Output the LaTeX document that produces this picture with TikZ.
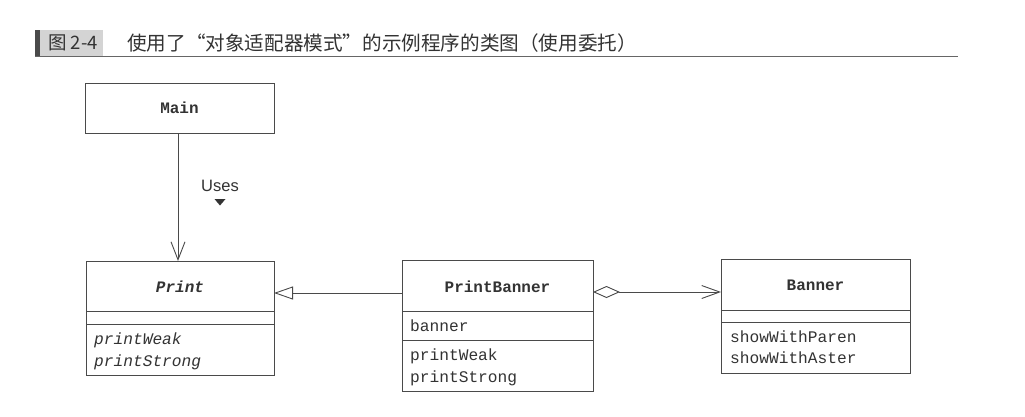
\documentclass[tikz,border=0pt]{standalone}
\usepackage{fontspec}
\setmainfont{Liberation Serif}
\newfontfamily\monofont{Liberation Mono}
\newfontfamily\labelfont{Liberation Sans}
\newfontfamily\cjkfont{Noto Sans CJK SC}
\usetikzlibrary{arrows.meta}

\definecolor{ink}{HTML}{333333}
\definecolor{frame}{HTML}{4A4A4A}
\definecolor{figtag}{HTML}{D4D4D4}

\newcommand{\memberfont}{\monofont\fontsize{16.2}{19}\selectfont}

\tikzset{
  classbox/.style={draw=frame, line width=0.9pt, fill=white, inner sep=0pt, outer sep=0pt, anchor=north west},
  divider/.style={draw=frame, line width=0.9pt},
  clsname/.style={font=\monofont\bfseries\fontsize{16}{19}\selectfont, text=ink, inner sep=0pt},
  member/.style={font=\memberfont, text=ink, inner sep=0pt, anchor=base west},
  link/.style={draw=frame, line width=0.9pt},
  captiontext/.style={text=ink, anchor=west, inner sep=0pt},
}

\begin{document}
\begin{tikzpicture}[x=1pt, y=-1pt]
\useasboundingbox[fill=white] (0,0) rectangle (1025,416);

% figure caption
\fill[frame] (35,30) rectangle (40,56);
\fill[figtag] (40,30) rectangle (103,56);
\draw[gray!80!black, line width=1.4pt] (35,56.5) -- (958,56.5);
\node[captiontext, font=\cjkfont\fontsize{18.5}{21}\selectfont] (tag) at (48,43) {图 2-4};
\node[captiontext, font=\cjkfont\fontsize{19.6}{22}\selectfont] (caption) at (127,43) {使用了“对象适配器模式”的示例程序的类图（使用委托）};

% Main
\node[classbox, minimum width=189pt, minimum height=50pt] (main) at (85,83) {};
\node[clsname] (mainname) at (179.5,108) {Main};

% Print
\node[classbox, minimum width=188pt, minimum height=114pt] (print) at (86,261) {};
\draw[divider] (print.west |- 0,311) -- (print.east |- 0,311);
\draw[divider] (print.west |- 0,324) -- (print.east |- 0,324);
\node[clsname, font=\monofont\bfseries\itshape\fontsize{16}{19}\selectfont] (printname) at (180,287) {Print};
\node[member, font=\memberfont\itshape] (pweak) at (94,344) {printWeak};
\node[member, font=\memberfont\itshape] (pstrong) at (94,366) {printStrong};

% PrintBanner
\node[classbox, minimum width=191pt, minimum height=131pt] (pb) at (402,260) {};
\draw[divider] (pb.west |- 0,311) -- (pb.east |- 0,311);
\draw[divider] (pb.west |- 0,340) -- (pb.east |- 0,340);
\node[clsname] (pbname) at (497.5,287) {PrintBanner};
\node[member] (pbfield) at (410,331) {banner};
\node[member] (pbweak) at (410,360) {printWeak};
\node[member] (pbstrong) at (410,382) {printStrong};

% Banner
\node[classbox, minimum width=189pt, minimum height=114pt] (banner) at (721,259) {};
\draw[divider] (banner.west |- 0,310) -- (banner.east |- 0,310);
\draw[divider] (banner.west |- 0,322) -- (banner.east |- 0,322);
\node[clsname] (bname) at (815.5,285) {Banner};
\node[member] (bparen) at (730,342) {showWithParen};
\node[member] (baster) at (730,363) {showWithAster};

% Main uses Print
\draw[link, -{Straight Barb[length=18pt, width=14pt, line width=0.9pt]}] (main.south -| 178,0) -- (print.north -| 178,0);
\node[font=\labelfont\fontsize{16.5}{19}\selectfont, text=ink, inner sep=0pt] (uses) at (220,186) {Uses};
\fill[ink] (214.5,199) -- (225.5,199) -- (220,205.5) -- cycle;

% PrintBanner extends Print
\draw[link, -{Triangle[open, length=19pt, width=13pt, line width=0.9pt, fill=white]}] (pb.west |- 0,293) -- (print.east |- 0,293);

% PrintBanner holds a Banner
\draw[link, {Diamond[open, length=27pt, width=12pt, line width=0.9pt, fill=white]}-{Straight Barb[length=18pt, width=13pt, line width=0.9pt]}] (pb.east |- 0,292) -- (banner.west |- 0,292);
\end{tikzpicture}
\end{document}
